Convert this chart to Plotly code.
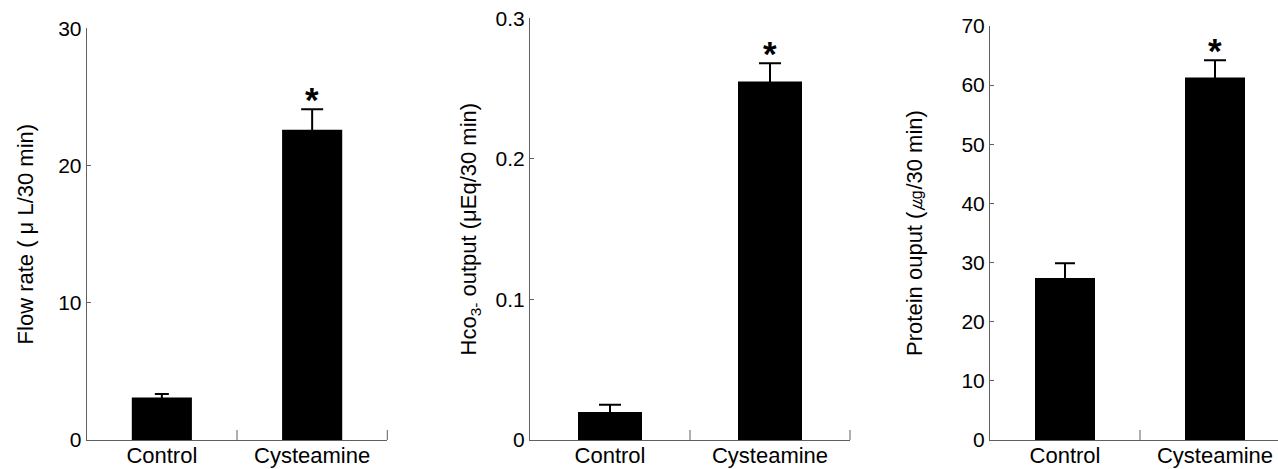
import plotly.graph_objects as go

categories = ["Control", "Cysteamine"]

flow_values = [3.1, 22.6]
flow_errors = [0.25, 1.5]

hco3_values = [0.020, 0.255]
hco3_errors = [0.005, 0.013]

protein_values = [27.4, 61.3]
protein_errors = [2.5, 2.9]

flow_ticks = [0, 10, 20, 30]
hco3_ticks = [0, 0.1, 0.2, 0.3]
hco3_ticklabels = ["0", "0.1", "0.2", "0.3"]
protein_ticks = [0, 10, 20, 30, 40, 50, 60, 70]

significant = ["", "*"]

W, H = 1278, 469
FONT = "Liberation Sans, Arial, Helvetica, sans-serif"
AXIS_COLOR = "#606060"

panels = [
    dict(vals=flow_values, errs=flow_errors, caps=[7, 11], ticks=flow_ticks,
         ticklabels=[str(t) for t in flow_ticks], yrange=[0, 30],
         xdom=[86.7 / W, 387.3 / W], ytop=(440 - 28.3) / 440, xrange=[-0.5, 1.5],
         title="Flow rate ( μ L/30 min)", standoff=18),
    dict(vals=hco3_values, errs=hco3_errors, caps=[11, 11], ticks=hco3_ticks,
         ticklabels=hco3_ticklabels, yrange=[0, 0.3],
         xdom=[530 / W, 850 / W], ytop=(440 - 18.3) / 440, xrange=[-0.5, 1.5],
         title="Hco<sub>3-</sub> output (μEq/30 min)", standoff=12),
    dict(vals=protein_values, errs=protein_errors, caps=[10, 11], ticks=protein_ticks,
         ticklabels=[str(t) for t in protein_ticks], yrange=[0, 70],
         xdom=[990 / W, 1.0], ytop=(440 - 26) / 440, xrange=[-0.5, 1.42],
         title="Protein ouput (㎍/30 min)", standoff=32),
]

fig = go.Figure()
layout = dict(
    width=W, height=H,
    margin=dict(l=0, r=0, t=0, b=29, pad=0, autoexpand=False),
    paper_bgcolor="white", plot_bgcolor="white",
    showlegend=False,
    font=dict(family=FONT, color="black", size=20),
)
annotations = []
shapes = []
for i, p in enumerate(panels):
    k = "" if i == 0 else str(i + 1)
    xa, ya = "x" + k, "y" + k
    for j, cat in enumerate(categories):
        fig.add_trace(go.Bar(
            x=[cat], y=[p["vals"][j]], xaxis=xa, yaxis=ya,
            width=0.4,
            marker=dict(color="black", line=dict(width=0)),
            error_y=dict(type="data", array=[p["errs"][j]], visible=True,
                         color="black", thickness=2, width=p["caps"][j]),
        ))
        if significant[j]:
            annotations.append(dict(
                x=cat, y=p["vals"][j] + p["errs"][j], xref=xa, yref=ya,
                text="<b>" + significant[j] + "</b>", showarrow=False,
                yanchor="bottom", yshift=-12,
                font=dict(size=35, family=FONT, color="black"),
            ))
    layout["xaxis" + k] = dict(
        domain=p["xdom"], anchor=ya, range=p["xrange"], automargin=False,
        type="category", categoryorder="array", categoryarray=categories,
        showline=True, linecolor=AXIS_COLOR, linewidth=1,
        ticks="", showgrid=False, zeroline=False, ticklabelstandoff=-4,
        tickfont=dict(size=22, family=FONT, color="black"),
    )
    layout["yaxis" + k] = dict(
        domain=[0, p["ytop"]], anchor=xa, range=p["yrange"], automargin=False,
        tickvals=p["ticks"], ticktext=p["ticklabels"],
        ticks="inside", ticklen=4, tickcolor=AXIS_COLOR, tickwidth=1,
        showline=True, linecolor=AXIS_COLOR, linewidth=1,
        showgrid=False, zeroline=False,
        tickfont=dict(size=21, family=FONT, color="black"),
        title=dict(text=p["title"], standoff=p["standoff"],
                   font=dict(size=22, family=FONT, color="black")),
    )
    # inside x ticks at category boundary and right end
    span = p["xrange"][1] - p["xrange"][0]
    dw = p["xdom"][1] - p["xdom"][0]
    xmid = p["xdom"][0] + dw * (1.0 / span)
    shapes.append(dict(type="line", xref="paper", yref="paper",
                       x0=xmid, x1=xmid, y0=0, y1=10 / 440,
                       line=dict(color=AXIS_COLOR, width=1)))
    if p["xrange"][1] >= 1.5:
        shapes.append(dict(type="line", xref="paper", yref="paper",
                           x0=p["xdom"][1], x1=p["xdom"][1], y0=0, y1=10 / 440,
                           line=dict(color=AXIS_COLOR, width=1)))

layout["annotations"] = annotations
layout["shapes"] = shapes
fig.update_layout(**layout)
fig.write_html("out.html")
